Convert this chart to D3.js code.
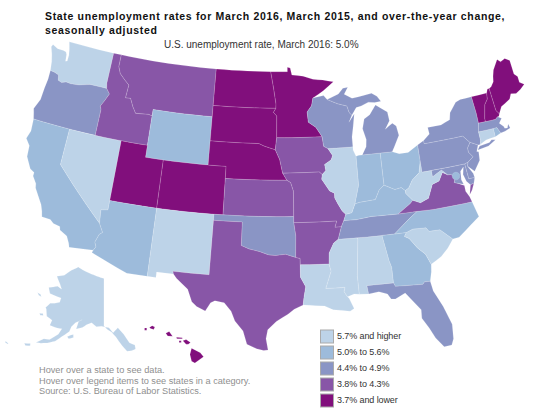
<!DOCTYPE html>
<html>
<head>
<meta charset="utf-8">
<script src="https://d3js.org/d3.v7.min.js"></script>
<style>
  body { margin: 0; background: #fff; }
  text { font-family: "Liberation Sans", Arial, sans-serif; }
</style>
</head>
<body>
<div id="map"></div>
<script>
const width = 550;
const height = 419;

const titleLines = [
  "State unemployment rates for March 2016, March 2015, and over-the-year change,",
  "seasonally adjusted"
];
const subtitle = "U.S. unemployment rate, March 2016: 5.0%";
const notes = [
  "Hover over a state to see data.",
  "Hover over legend items to see states in a category.",
  "Source: U.S. Bureau of Labor Statistics."
];

const legendLabels = ["5.7% and higher", "5.0% to 5.6%", "4.4% to 4.9%", "3.8% to 4.3%", "3.7% and lower"];
const legendColors = ["#bdd3e8", "#9dbbdb", "#8a95c5", "#8856a7", "#810f7c"];

// category index for each state, same order as legendLabels
const class0 = ["WA", "NV", "NM", "AK", "IL", "WV", "LA", "MS", "AL", "SC", "CT"];
const class1 = ["CA", "WY", "AZ", "IN", "OH", "KY", "GA", "NC", "RI", "DC"];
const class2 = ["OR", "OK", "WI", "MI", "TN", "FL", "PA", "NY", "NJ", "MD", "DE", "MA"];
const class3 = ["ID", "MT", "KS", "TX", "IA", "MO", "AR", "VA"];
const class4 = ["UT", "CO", "ND", "SD", "NE", "MN", "VT", "NH", "ME", "HI"];
const classes = [class0, class1, class2, class3, class4];

// rough state outlines, [lon, lat]
const shapes = {
  WA: [[[-122.76,49],[-117.03,49],[-117.04,46.42],[-116.92,46],[-118.98,46],[-119.3,45.93],[-120.2,45.73],[-121.2,45.65],[-121.8,45.7],[-122.3,45.55],[-122.76,45.65],[-122.9,46.08],[-123.4,46.2],[-123.98,46.25],[-124.08,46.7],[-124.15,47],[-124.4,47.6],[-124.73,48.17],[-124.6,48.38],[-123.9,48.16],[-123.15,48.16],[-122.8,48.1],[-122.65,47.9],[-122.55,47.35],[-122.35,47.4],[-122.35,47.9],[-122.5,48.4]]],
  OR: [[[-123.98,46.25],[-123.4,46.2],[-122.9,46.08],[-122.76,45.65],[-122.3,45.55],[-121.8,45.7],[-121.2,45.65],[-120.2,45.73],[-119.3,45.93],[-118.98,46],[-116.92,46],[-116.46,45.6],[-116.85,44.95],[-117.2,44.45],[-117.03,44.2],[-117.03,42],[-120,42],[-124.21,42],[-124.4,42.5],[-124.55,42.84],[-124.1,43.7],[-124.05,44.7],[-123.95,45.5]]],
  CA: [[[-124.21,42],[-120,42],[-120,39],[-114.63,35],[-114.14,34.3],[-114.43,34.1],[-114.72,33.4],[-114.52,33.03],[-114.72,32.72],[-117.12,32.53],[-117.25,32.85],[-117.6,33.4],[-118.4,33.75],[-118.5,34.03],[-119.2,34.15],[-119.6,34.4],[-120.5,34.45],[-120.65,34.9],[-120.9,35.4],[-121.9,36.6],[-122,36.95],[-122.5,37.5],[-122.5,37.8],[-123,38],[-123.7,38.9],[-123.8,39.8],[-124.35,40.3],[-124.1,41]]],
  NV: [[[-120,42],[-114.04,42],[-114.04,36.2],[-114.75,36.1],[-114.63,35],[-120,39]]],
  ID: [[[-117.03,49],[-116.05,49],[-116.05,48],[-115.7,47.45],[-115,47],[-114.4,46.65],[-114.5,45.56],[-113.9,45.6],[-113.45,44.95],[-113,44.45],[-111.5,44.55],[-111.05,44.48],[-111.05,42],[-114.04,42],[-117.03,42],[-117.03,44.2],[-117.2,44.45],[-116.85,44.95],[-116.46,45.6],[-116.92,46],[-117.04,46.42]]],
  MT: [[[-116.05,49],[-104.05,49],[-104.05,45],[-111.05,45],[-111.05,44.48],[-111.5,44.55],[-113,44.45],[-113.45,44.95],[-113.9,45.6],[-114.5,45.56],[-114.4,46.65],[-115,47],[-115.7,47.45],[-116.05,48]]],
  WY: [[[-111.05,45],[-104.05,45],[-104.05,41],[-111.05,41]]],
  UT: [[[-114.04,42],[-111.05,42],[-111.05,41],[-109.05,41],[-109.05,37],[-114.04,37]]],
  AZ: [[[-114.04,37],[-109.05,37],[-109.05,31.33],[-111.07,31.33],[-114.81,32.5],[-114.72,32.72],[-114.52,33.03],[-114.72,33.4],[-114.43,34.1],[-114.14,34.3],[-114.63,35],[-114.75,36.1],[-114.04,36.2]]],
  CO: [[[-109.05,41],[-102.05,41],[-102.05,37],[-109.05,37]]],
  NM: [[[-109.05,37],[-103,37],[-103.04,32],[-106.62,32],[-106.53,31.78],[-108.2,31.78],[-108.2,31.33],[-109.05,31.33]]],
  ND: [[[-104.05,49],[-97.23,49],[-96.85,47.6],[-96.55,46.3],[-96.56,45.94],[-104.05,45.94]]],
  SD: [[[-104.05,45.94],[-96.56,45.94],[-96.85,45.6],[-96.45,45.3],[-96.45,43.5],[-96.6,42.5],[-97.9,42.8],[-98.5,43],[-104.05,43]]],
  NE: [[[-104.05,43],[-98.5,43],[-97.9,42.8],[-96.6,42.5],[-96.1,41.7],[-95.9,41],[-95.77,40.58],[-95.31,40],[-102.05,40],[-102.05,41],[-104.05,41]]],
  KS: [[[-102.05,40],[-95.31,40],[-94.9,39.8],[-94.61,39.1],[-94.62,37],[-102.05,37]]],
  OK: [[[-103,37],[-94.62,37],[-94.62,36.5],[-94.43,35.4],[-94.48,33.64],[-95.5,33.9],[-96.5,33.8],[-97.2,33.85],[-98.1,34.1],[-99.2,34.3],[-100,34.56],[-100,36.5],[-103,36.5]]],
  TX: [[[-106.62,32],[-103.04,32],[-103,36.5],[-100,36.5],[-100,34.56],[-99.2,34.3],[-98.1,34.1],[-97.2,33.85],[-96.5,33.8],[-95.5,33.9],[-94.48,33.64],[-94.04,33.55],[-94.04,33.02],[-94.04,32],[-93.55,31.2],[-93.75,30.3],[-93.84,29.7],[-94.7,29.35],[-95.3,28.95],[-96.4,28.35],[-97.2,27.65],[-97.35,26.9],[-97.15,25.96],[-97.55,25.9],[-98.2,26.05],[-99.1,26.4],[-99.5,27.5],[-100.3,28.3],[-100.7,29.1],[-101.4,29.77],[-102.3,29.88],[-102.7,29.7],[-103.15,28.98],[-104,29.3],[-104.5,29.65],[-105,30.65],[-106.2,31.47],[-106.53,31.78]]],
  MN: [[[-97.23,49],[-95.15,49],[-95.15,49.38],[-94.8,49.3],[-94.6,48.72],[-93.2,48.6],[-92,48.3],[-90.8,48.2],[-89.5,48],[-90.8,47.3],[-92.1,46.75],[-92.3,46.1],[-92.85,45.6],[-92.75,44.75],[-91.9,44.3],[-91.22,43.5],[-96.45,43.5],[-96.45,45.3],[-96.85,45.6],[-96.56,45.94],[-96.55,46.3],[-96.85,47.6]]],
  IA: [[[-96.45,43.5],[-91.22,43.5],[-91.1,42.7],[-90.64,42.5],[-90.15,41.9],[-90.35,41.55],[-91.1,41.2],[-91,40.7],[-91.42,40.38],[-91.73,40.61],[-95.77,40.58],[-95.9,41],[-96.1,41.7],[-96.6,42.5]]],
  MO: [[[-95.77,40.58],[-91.73,40.61],[-91.42,40.38],[-91.5,40],[-90.7,39],[-90.2,38.8],[-90.2,38.4],[-89.9,37.9],[-89.5,37.3],[-89.15,37],[-89.4,36.5],[-89.7,36],[-90.37,36],[-90.15,36.5],[-94.62,36.5],[-94.62,37],[-94.61,39.1],[-94.9,39.8],[-95.31,40]]],
  AR: [[[-94.62,36.5],[-90.15,36.5],[-90.37,36],[-89.7,36],[-90.1,35],[-90.6,34.7],[-91.1,33.9],[-91.17,33],[-94.04,33.02],[-94.04,33.55],[-94.48,33.64],[-94.43,35.4]]],
  LA: [[[-94.04,33.02],[-91.17,33],[-91,32.4],[-91.6,31],[-89.73,31],[-89.85,30.65],[-89.55,30.2],[-89.4,30.05],[-89,29.2],[-89.4,29],[-90.1,29.1],[-91,29.2],[-91.8,29.55],[-92.6,29.6],[-93.84,29.7],[-93.75,30.3],[-93.55,31.2],[-94.04,32]]],
  MS: [[[-91.17,33],[-91.1,33.9],[-90.6,34.7],[-90.1,35],[-88.2,35],[-88.1,34.9],[-88.45,31.9],[-88.4,30.35],[-88.9,30.4],[-89.55,30.2],[-89.85,30.65],[-89.73,31],[-91.6,31],[-91,32.4]]],
  AL: [[[-88.2,35],[-85.61,35],[-85.18,32.87],[-85,32.3],[-85,31],[-87.6,31],[-87.5,30.3],[-88.4,30.35],[-88.45,31.9],[-88.1,34.9]]],
  TN: [[[-90.1,35],[-88.2,35],[-85.61,35],[-84.32,35],[-83.1,35.78],[-82.5,36.15],[-81.68,36.59],[-83.68,36.6],[-86.5,36.65],[-88.07,36.5],[-89.4,36.5],[-89.7,36]]],
  KY: [[[-89.4,36.5],[-88.07,36.5],[-86.5,36.65],[-83.68,36.6],[-82.3,37.3],[-81.97,37.54],[-82.6,38.17],[-82.6,38.42],[-83,38.72],[-83.7,38.63],[-84.8,39.1],[-85.4,38.73],[-85.9,38],[-86.8,37.95],[-87.6,37.9],[-88.1,37.8],[-88.5,37.1],[-89.15,37]]],
  IL: [[[-87.8,42.49],[-90.64,42.5],[-90.15,41.9],[-90.35,41.55],[-91.1,41.2],[-91,40.7],[-91.42,40.38],[-91.5,40],[-90.7,39],[-90.2,38.8],[-90.2,38.4],[-89.9,37.9],[-89.5,37.3],[-89.15,37],[-88.5,37.1],[-88.1,37.8],[-87.95,38.2],[-87.53,39.3],[-87.53,41.7],[-87.8,42.2]]],
  IN: [[[-87.53,41.7],[-87.2,41.75],[-86.82,41.76],[-84.8,41.76],[-84.8,39.1],[-85.4,38.73],[-85.9,38],[-86.8,37.95],[-87.6,37.9],[-88.1,37.8],[-87.95,38.2],[-87.53,39.3]]],
  OH: [[[-84.8,41.76],[-83.45,41.73],[-82.7,41.5],[-81.7,41.5],[-80.52,41.98],[-80.52,40.64],[-80.85,39.7],[-81.7,39.2],[-82.2,38.6],[-82.6,38.42],[-83,38.72],[-83.7,38.63],[-84.8,39.1]]],
  MI: [
    [[-86.82,41.76],[-84.8,41.76],[-83.45,41.73],[-83.15,42.1],[-82.45,43],[-82.6,43.8],[-83,44.07],[-83.4,43.9],[-83.9,43.65],[-83.3,44.3],[-83.4,45.05],[-84.7,45.75],[-85.5,45],[-86.2,44.7],[-86.5,43.9],[-86.2,43],[-86.3,42.4]],
    [[-90.4,46.55],[-89,46.95],[-88.4,47.4],[-87.8,47.45],[-88.3,46.9],[-87.4,46.5],[-86,46.65],[-85,46.75],[-84.4,46.45],[-84,46],[-84.75,45.95],[-85.5,46.05],[-86.4,45.8],[-87,45.7],[-87.6,45.1],[-87.9,45.35],[-88.1,45.9],[-89.2,46.15]]
  ],
  WI: [[[-92.1,46.75],[-90.8,46.9],[-90.4,46.55],[-89.2,46.15],[-88.1,45.9],[-87.9,45.35],[-87.6,45.1],[-88,44.55],[-87.3,45.2],[-87.55,44.2],[-87.8,43.3],[-87.8,42.49],[-90.64,42.5],[-91.1,42.7],[-91.22,43.5],[-91.9,44.3],[-92.75,44.75],[-92.85,45.6],[-92.3,46.1]]],
  GA: [[[-85.61,35],[-84.32,35],[-83.1,35],[-83.35,34.7],[-82.9,34.48],[-82.2,33.6],[-81.5,33],[-81.1,32.1],[-81.2,31.5],[-81.45,30.72],[-82,30.75],[-82.2,30.57],[-84.86,30.7],[-85,31],[-85,32.3],[-85.18,32.87]]],
  FL: [[[-87.6,31],[-85,31],[-84.86,30.7],[-82.2,30.57],[-82,30.75],[-81.45,30.72],[-81.3,29.9],[-80.6,28.5],[-80.05,26.9],[-80.15,25.7],[-80.4,25.2],[-81.1,25.15],[-81.75,26],[-82.2,26.9],[-82.75,27.8],[-82.7,28.5],[-83.2,29.1],[-84,30.05],[-85,29.65],[-85.4,29.7],[-85.7,30.15],[-86.5,30.4],[-87.5,30.3]]],
  SC: [[[-83.1,35],[-82.4,35.2],[-81.05,35.15],[-80.8,34.82],[-79.68,34.8],[-78.55,33.86],[-79.2,33.2],[-80,32.6],[-81.1,32.1],[-81.5,33],[-82.2,33.6],[-82.9,34.48],[-83.35,34.7]]],
  NC: [[[-84.32,35],[-83.1,35.78],[-82.5,36.15],[-81.68,36.59],[-80,36.54],[-75.87,36.55],[-75.5,35.25],[-76.5,34.7],[-77.9,33.9],[-78.55,33.86],[-79.68,34.8],[-80.8,34.82],[-81.05,35.15],[-82.4,35.2],[-83.1,35]]],
  VA: [
    [[-83.68,36.6],[-81.68,36.59],[-80,36.54],[-75.87,36.55],[-76,37],[-76.3,37.5],[-76.3,38],[-77,38.3],[-77.3,38.4],[-77.05,38.85],[-77.5,39.1],[-77.83,39.13],[-78.35,39.4],[-78.87,38.76],[-79.65,38.58],[-80.3,37.5],[-81.2,37.25],[-81.97,37.54],[-82.3,37.3]],
    [[-75.95,37.15],[-75.65,37.95],[-75.25,38.03],[-75.6,37.5]]
  ],
  WV: [[[-81.97,37.54],[-81.2,37.25],[-80.3,37.5],[-79.65,38.58],[-78.87,38.76],[-78.35,39.4],[-77.83,39.13],[-78.4,39.62],[-79.48,39.2],[-79.48,39.72],[-80.52,39.72],[-80.52,40.64],[-80.85,39.7],[-81.7,39.2],[-82.2,38.6],[-82.6,38.42],[-82.6,38.17]]],
  PA: [[[-80.52,41.98],[-79.76,42.27],[-79.76,42],[-75.35,42],[-74.7,41.36],[-75.1,40.95],[-75.1,40.6],[-74.72,40.15],[-75.4,39.8],[-75.79,39.72],[-80.52,39.72]]],
  NY: [
    [[-79.76,42.27],[-79,42.7],[-79.05,43.27],[-77.5,43.27],[-76.4,43.55],[-76.2,44.1],[-75.3,44.85],[-74.7,45],[-73.35,45],[-73.25,43.6],[-73.27,42.75],[-73.5,42.05],[-73.5,41.3],[-73.65,41],[-73.9,41],[-74.7,41.36],[-75.35,42],[-79.76,42]],
    [[-74.05,40.6],[-73.75,40.88],[-72.6,40.98],[-72.3,41.15],[-71.87,41.07],[-72.8,40.72]]
  ],
  NJ: [[[-74.7,41.36],[-73.9,41],[-74.2,40.5],[-74,40.45],[-74.1,39.75],[-74.9,38.95],[-75.55,39.5],[-75.4,39.8],[-74.72,40.15],[-75.1,40.6],[-75.1,40.95]]],
  DE: [[[-75.79,39.72],[-75.4,39.8],[-75.55,39.5],[-75.1,38.8],[-75.05,38.45],[-75.7,38.46]]],
  MD: [[[-79.48,39.72],[-75.79,39.72],[-75.7,38.46],[-75.05,38.45],[-75.25,38.03],[-75.65,37.95],[-76,38.3],[-76.2,38.9],[-76,39.5],[-76.4,39.2],[-76.5,38.5],[-76.35,38.1],[-77,38.3],[-77.3,38.4],[-77.05,38.85],[-77.5,39.1],[-77.83,39.13],[-78.4,39.62],[-79.48,39.2]]],
  CT: [[[-73.5,42.05],[-71.8,42.02],[-71.8,41.32],[-72.9,41.25],[-73.65,41],[-73.5,41.3]]],
  RI: [[[-71.8,42.02],[-71.38,42.02],[-71.12,41.5],[-71.8,41.32]]],
  MA: [[[-73.27,42.75],[-72.46,42.73],[-71.3,42.7],[-71,42.87],[-70.6,42.65],[-71,42.3],[-70.6,41.95],[-70.55,41.8],[-70.25,41.75],[-70.05,42.05],[-69.95,41.7],[-70.6,41.55],[-71.12,41.5],[-71.38,42.02],[-71.8,42.02],[-73.5,42.05]]],
  VT: [[[-73.35,45],[-71.5,45],[-71.6,44.5],[-72.05,44.1],[-72.45,43],[-72.46,42.73],[-73.27,42.75],[-73.25,43.6]]],
  NH: [[[-71.5,45],[-71.3,45.3],[-71.08,45.3],[-70.98,43.4],[-70.7,43.07],[-70.82,42.87],[-71,42.87],[-71.3,42.7],[-72.46,42.73],[-72.45,43],[-72.05,44.1],[-71.6,44.5]]],
  ME: [[[-71.08,45.3],[-70.8,45.4],[-70.4,45.75],[-70.25,46.2],[-70,46.7],[-69.23,47.46],[-68.9,47.18],[-68.3,47.36],[-67.79,47.07],[-67.78,45.9],[-67.45,45.6],[-67.45,45.1],[-66.98,44.82],[-67.6,44.5],[-68.2,44.3],[-68.8,44.4],[-69.1,44],[-69.8,43.75],[-70.25,43.6],[-70.7,43.07],[-70.98,43.4]]]
};

const alaska = [
  [[-141,69.65],[-141,60.3],[-139.8,59.6],[-138,59],[-136.5,58],[-134.5,56.2],[-133,55],[-131.5,55],[-130,55.2],[-130,56],[-131.8,56.6],[-133.5,58.4],[-135.5,59.8],[-137.5,58.9],[-139,59.9],[-142,60.2],[-144,60.1],[-146,60.8],[-148,60.3],[-149.5,59.7],[-151.8,59.2],[-151.3,60.8],[-150,61.2],[-152.5,60.4],[-153.8,59.5],[-154.2,58.5],[-156.5,57.2],[-158.5,56],[-161,55.2],[-163,54.8],[-164.7,54.6],[-162.5,55.8],[-160.5,56],[-158,57.5],[-157.2,58.7],[-159,58.6],[-162,58.7],[-161.8,59.8],[-164.3,60.2],[-165.5,61.5],[-166,61.7],[-164.8,62.8],[-163,63.1],[-161,63.6],[-161,64.5],[-163,64.5],[-166.5,64.6],[-168.1,65.6],[-164.3,66.5],[-162,66.2],[-163.5,67],[-166.5,68.3],[-163,69],[-160,70.4],[-156.6,71.35],[-152,70.8],[-146,70.2]],
  [[-154.6,57.4],[-153.9,57.05],[-152.3,57.5],[-152.5,58.05],[-153.3,57.9]],
  [[-166.1,60.4],[-167.4,60.2],[-166.8,59.9],[-165.7,60.1]],
  [[-171.8,63.75],[-170.3,63.7],[-169.5,63.35],[-170.8,63.4]],
  [[-168.2,53.6],[-166.3,54],[-166.1,53.6],[-167.6,53.25]],
  [[-174,52.35],[-172.9,52.2],[-172.9,52.05],[-174,52.1]],
  [[-177,51.95],[-176,51.95],[-176,51.7],[-177,51.7]]
];

const hawaii = [
  [[-155.9,20.25],[-155.1,19.85],[-154.8,19.5],[-155.6,18.95],[-155.9,19.1],[-156.05,19.7]],
  [[-156.7,20.9],[-156.4,21],[-156,20.75],[-156.2,20.6],[-156.4,20.6]],
  [[-157.3,21.2],[-156.75,21.17],[-156.75,21.08],[-157.25,21.08]],
  [[-157.05,20.9],[-156.85,20.9],[-156.85,20.75],[-157.05,20.75]],
  [[-158.28,21.55],[-157.97,21.7],[-157.65,21.3],[-158.1,21.3]],
  [[-159.8,22.05],[-159.55,22.2],[-159.3,22.1],[-159.4,21.88],[-159.7,21.95]],
  [[-160.25,22],[-160.05,22],[-160.05,21.8],[-160.25,21.8]]
];

// long edges have to follow the parallels, so add points along them
function densify(ring) {
  const out = [];
  ring.forEach((p, i) => {
    const q = ring[(i + 1) % ring.length];
    const n = Math.max(1, Math.ceil(Math.abs(q[0] - p[0])));
    for (let k = 0; k < n; k++) out.push([p[0] + (q[0] - p[0]) * k / n, p[1] + (q[1] - p[1]) * k / n]);
  });
  out.push(out[0]);
  // d3 wants clockwise rings, anything else fills the globe
  if (d3.geoArea({ type: "Polygon", coordinates: [out] }) > 2 * Math.PI) out.reverse();
  return out;
}

function toFeature(id, rings) {
  return {
    type: "Feature",
    id: id,
    geometry: { type: "MultiPolygon", coordinates: rings.map(r => [densify(r)]) }
  };
}

const color = d3.scaleOrdinal().domain(d3.range(5)).range(legendColors);
const classOf = id => classes.findIndex(c => c.includes(id));

const svg = d3.select("#map")
  .append("svg")
  .attr("width", width)
  .attr("height", height);

const lower48 = d3.geoAlbers().scale(690).translate([275, 196]);
const akProjection = d3.geoConicEqualArea()
  .rotate([141, 0]).center([-11, 62]).parallels([55, 65])
  .scale(290).translate([78, 315]);
const hiProjection = d3.geoConicEqualArea()
  .rotate([157, 0]).center([-3, 19.9]).parallels([8, 18])
  .scale(660).translate([147, 352]);

const drawGroup = (features, projection) => {
  const path = d3.geoPath().projection(projection);
  svg.append("g")
    .selectAll("path")
    .data(features)
    .enter().append("path")
    .attr("d", path)
    .attr("class", "state")
    .style("fill", d => color(classOf(d.id)))
    .style("stroke", "#fff")
    .style("stroke-opacity", 0.3)
    .style("stroke-width", 0.5);
};

const dc = { type: "Feature", id: "DC", geometry: d3.geoCircle().center([-76.98, 38.9]).radius(0.32)() };

drawGroup(Object.keys(shapes).map(id => toFeature(id, shapes[id])).concat([dc]), lower48);
drawGroup([toFeature("AK", alaska)], akProjection);
drawGroup([toFeature("HI", hawaii)], hiProjection);

// title
svg.append("g")
  .selectAll("text")
  .data(titleLines)
  .enter().append("text")
  .attr("x", 45)
  .attr("y", (d, i) => 20 + i * 14)
  .style("font-size", "10.5px")
  .style("font-weight", "bold")
  .style("letter-spacing", "0.67px")
  .style("fill", "#111")
  .text(d => d);

svg.append("text")
  .attr("x", 164)
  .attr("y", 48)
  .style("font-size", "10px")
  .style("fill", "#333")
  .text(subtitle);

svg.append("g")
  .selectAll("text")
  .data(notes)
  .enter().append("text")
  .attr("x", 39)
  .attr("y", (d, i) => 373 + i * 10.6)
  .style("font-size", "9.2px")
  .style("fill", "#8f8f8f")
  .text(d => d);

// legend
const legendY = d3.scaleLinear().domain([0, 4]).range([336.5, 400.5]);
const legend = svg.append("g")
  .selectAll("g")
  .data(legendLabels)
  .enter().append("g");

legend.append("rect")
  .attr("x", 320.5)
  .attr("y", (d, i) => legendY(i) - 6.5)
  .attr("width", 13)
  .attr("height", 13)
  .style("fill", (d, i) => legendColors[i])
  .style("stroke", "#aaa");

legend.append("text")
  .attr("x", 337)
  .attr("y", (d, i) => legendY(i) + 2.5)
  .style("font-size", "9px")
  .style("letter-spacing", "-0.1px")
  .style("fill", "#333")
  .text(d => d);
</script>
</body>
</html>
